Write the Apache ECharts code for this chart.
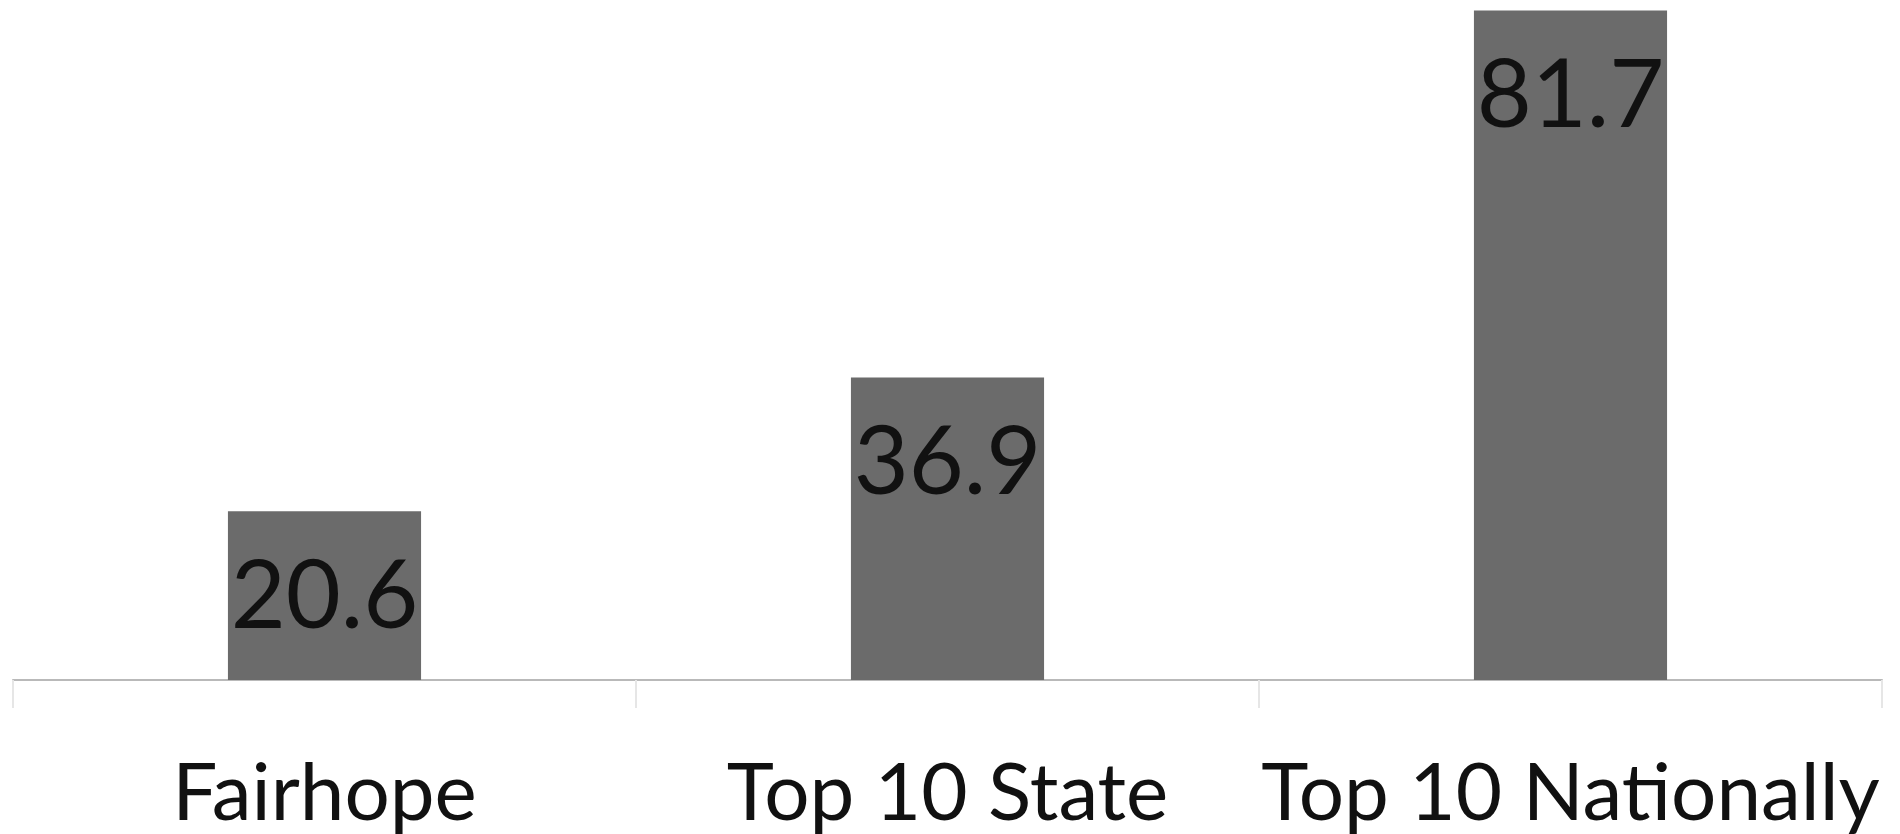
<!DOCTYPE html>
<html>
<head>
<meta charset="utf-8">
<script src="https://cdn.jsdelivr.net/npm/echarts@6/dist/echarts.min.js"></script>
<style>
html,body{margin:0;padding:0;background:#fff;}
#c{width:1900px;height:834px;}
</style>
</head>
<body>
<div id="c"></div>
<script>
const categories = ["Fairhope", "Top 10 State", "Top 10 Nationally"];
const values = [20.6, 36.9, 81.7];

const chart = echarts.init(document.getElementById('c'));
chart.setOption({
  animation: false,
  backgroundColor: '#ffffff',
  grid: { left: 13, right: 18, top: 8, bottom: 152 },
  xAxis: {
    type: 'category',
    data: categories,
    axisLine: { lineStyle: { color: '#b9b9b9', width: 2 } },
    axisTick: { show: true, length: 28, lineStyle: { color: '#e6e6e6', width: 2 } },
    axisLabel: {
      interval: 0,
      color: '#111111',
      fontFamily: 'Lato',
      fontSize: 80,
      margin: 74
    }
  },
  yAxis: {
    type: 'value',
    min: 0,
    max: 82,
    show: false,
    splitLine: { show: false }
  },
  series: [{
    type: 'bar',
    data: values,
    barWidth: '31%',
    itemStyle: { color: '#6b6b6b' },
    label: {
      show: true,
      position: ['50%', 86],
      align: 'center',
      verticalAlign: 'middle',
      color: '#111111',
      fontFamily: 'Lato',
      fontSize: 95,
      formatter: p => p.value.toFixed(1)
    }
  }]
});
</script>
</body>
</html>
